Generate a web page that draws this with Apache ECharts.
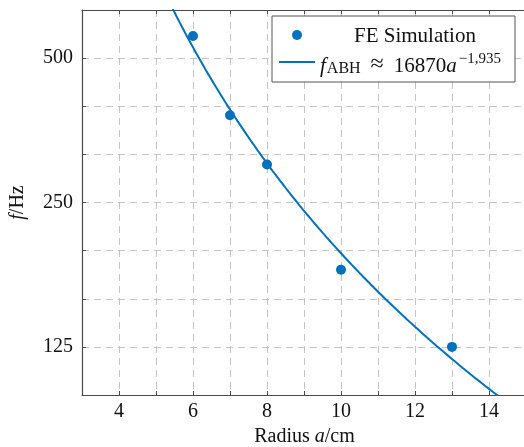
<!DOCTYPE html>
<html>
<head>
<meta charset="utf-8">
<script src="https://cdn.jsdelivr.net/npm/echarts@6/dist/echarts.min.js"></script>
<style>
  html, body { margin: 0; padding: 0; background: #fff; overflow: hidden; }
  #chart { width: 524px; height: 447px; }
</style>
</head>
<body>
<div id="chart"></div>
<script>
// FE simulation results: radius a (cm) and frequency f (Hz)
const radius = [6, 7, 8, 10, 13];
const freqFE = [556, 380, 300, 181, 125];

// Power-law fit f_ABH = 16870 * a^(-1.935)
const fitCoef = 16870;
const fitExp = -1.935;

// Labelled frequency ticks (log2 axis, three grid steps per octave)
const yTickValues = [125, 250, 500];
const xTickLabels = [4, 6, 8, 10, 12, 14];

const FONT = 'Liberation Serif';
const BLUE = '#0072bd';
const BASE_F = 125;
const STEPS_PER_OCTAVE = 3;

// frequency -> position on the octave-based axis
const toAxis = f => STEPS_PER_OCTAVE * Math.log2(f / BASE_F);

const scatterData = radius.map((a, i) => [a, toAxis(freqFE[i])]);

const fitData = [];
for (let a = 5.0; a <= 14.6; a += 0.05) {
  fitData.push([a, toAxis(fitCoef * Math.pow(a, fitExp))]);
}

const chart = echarts.init(document.getElementById('chart'), null, { renderer: 'canvas' });

const gridLineStyle = { color: '#c4c4c4', width: 1, type: [7, 5] };
const AXIS_COLOR = '#4a4a4a';
const axisLine = { show: true, onZero: false, lineStyle: { color: AXIS_COLOR, width: 1.2 } };
const axisTick = { show: true, inside: true, length: 4, lineStyle: { color: AXIS_COLOR } };
const italic = { fontFamily: FONT, fontSize: 20, fontStyle: 'italic', color: '#111' };

// the frame runs past the right edge of the canvas
chart.setOption({
  animation: false,
  grid: {
    left: 82, width: 481, top: 10, bottom: 52,
    containLabel: false, outerBoundsMode: 'none', show: false
  },
  xAxis: [
    {
      type: 'value', min: 3, max: 16, interval: 1, position: 'bottom',
      axisLine, axisTick,
      splitLine: { show: true, showMinLine: false, showMaxLine: false, lineStyle: gridLineStyle },
      axisLabel: {
        fontFamily: FONT, fontSize: 20, color: '#111', margin: 7,
        formatter: v => xTickLabels.includes(v) ? String(v) : ''
      },
      name: 'Radius {i|a}/cm',
      nameLocation: 'middle', nameGap: 25,
      // centred under the visible part of the frame
      nameTextStyle: {
        fontFamily: FONT, fontSize: 20, color: '#111', rich: { i: italic },
        padding: [0, 36, 0, 0]
      }
    },
    {
      // frame line along the top edge
      type: 'value', min: 3, max: 16, interval: 1, position: 'top',
      axisLine, axisTick,
      splitLine: { show: false }, axisLabel: { show: false }
    }
  ],
  yAxis: {
    type: 'value', min: -1, max: 7, interval: 1,
    axisLine, axisTick,
    splitLine: { show: true, showMinLine: false, showMaxLine: false, lineStyle: gridLineStyle },
    axisLabel: {
      fontFamily: FONT, fontSize: 20, color: '#111', margin: 9,
      formatter: v => {
        const f = Math.round(BASE_F * Math.pow(2, v / STEPS_PER_OCTAVE));
        return yTickValues.includes(f) && v % STEPS_PER_OCTAVE === 0 ? String(f) : '';
      }
    },
    name: '{i|f}/Hz',
    nameLocation: 'middle', nameGap: 54, nameRotate: 90,
    nameTextStyle: { fontFamily: FONT, fontSize: 20, color: '#111', rich: { i: italic } }
  },
  legend: {
    orient: 'vertical', left: 272, top: 16,
    padding: [9, 14, 5, 6], itemGap: 0,
    itemWidth: 36, itemHeight: 10, itemTextGap: 4,
    backgroundColor: '#fff', borderColor: '#555', borderWidth: 1, borderRadius: 0,
    data: [
      { name: 'FE Simulation', icon: 'circle' },
      { name: 'fABH', itemStyle: { opacity: 0 } }
    ],
    formatter: name => name === 'FE Simulation'
      ? '{pad|}{t|FE Simulation}'
      : '{h|}{i|f}{sub|ABH}{r|≈}{t|16870}{i|a}{sup|−1,935}',
    textStyle: {
      fontFamily: FONT, fontSize: 20, color: '#111',
      rich: {
        pad: { width: 34, lineHeight: 24 },
        h: { width: 0, lineHeight: 30 },
        t: { fontFamily: FONT, fontSize: 21, color: '#111', lineHeight: 24, verticalAlign: 'bottom' },
        r: { fontFamily: FONT, fontSize: 24, color: '#111', lineHeight: 24, verticalAlign: 'bottom', padding: [0, 10, 0, 10] },
        i: { fontFamily: FONT, fontSize: 21, fontStyle: 'italic', color: '#111', lineHeight: 24, verticalAlign: 'bottom', padding: [0, 1, 0, 0] },
        sub: { fontFamily: FONT, fontSize: 16, color: '#111', lineHeight: 13, verticalAlign: 'top', padding: [14, 0, 0, 0] },
        sup: { fontFamily: FONT, fontSize: 15, color: '#111', lineHeight: 15, verticalAlign: 'top', padding: [5, 0, 0, 1] }
      }
    }
  },
  series: [
    {
      name: 'FE Simulation', type: 'scatter', data: scatterData,
      symbol: 'circle', symbolSize: 10,
      itemStyle: { color: BLUE, opacity: 1 }, z: 3
    },
    {
      name: 'fABH', type: 'line', data: fitData,
      showSymbol: false, symbol: 'none', smooth: false, clip: true,
      lineStyle: { color: BLUE, width: 2 }, itemStyle: { color: BLUE }, z: 2
    }
  ]
});
</script>
</body>
</html>
